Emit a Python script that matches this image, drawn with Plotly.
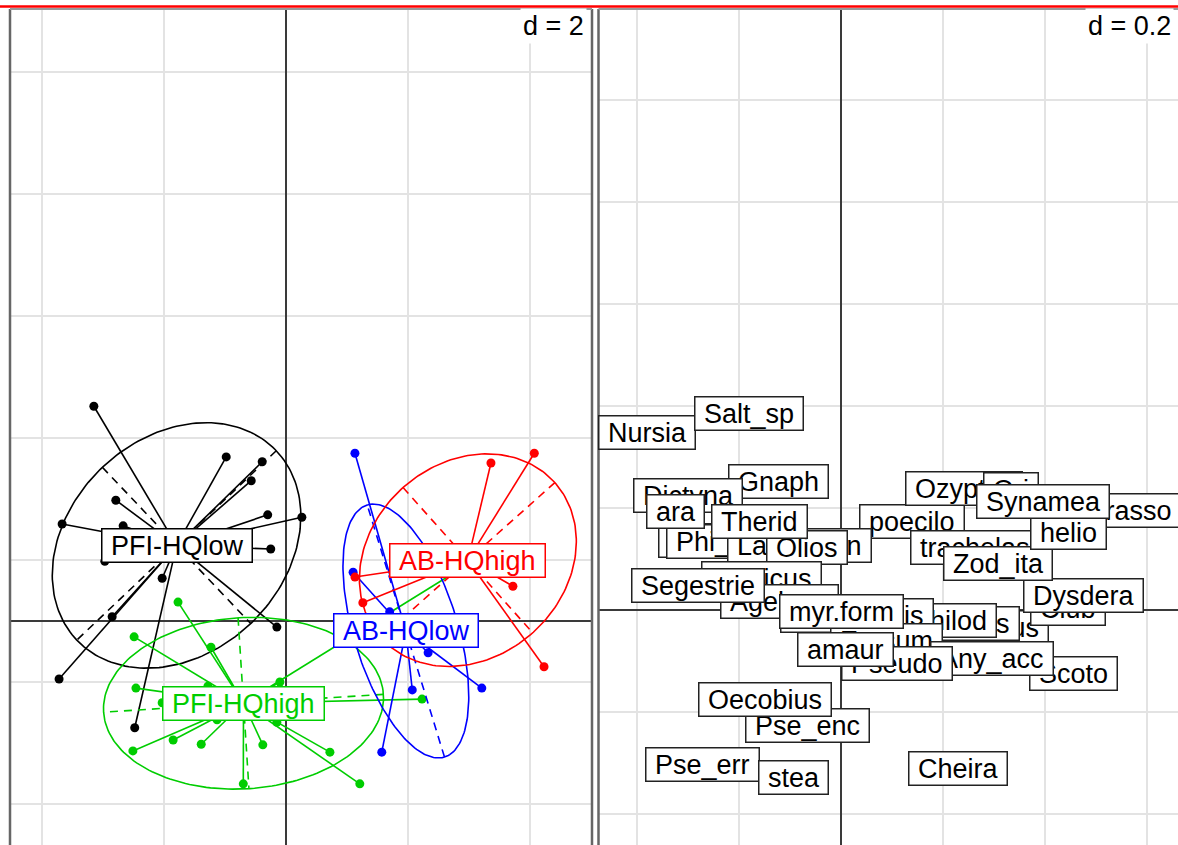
import numpy as np
import plotly.graph_objects as go

# ---------------- Left panel: s.class (d = 2) ----------------
grp_names = ["PFI-HQlow", "PFI-HQhigh", "AB-HQlow", "AB-HQhigh"]
grp_colors = ["#000000", "#00CD00", "#0000FF", "#FF0000"]

pfi_low_x = [-3.15, -0.98, -0.39, -0.57, -2.79, -3.67, -2.67, -0.30, 0.26, -0.25, -2.97, -2.03, -2.85, -0.15, -3.72, -2.48]
pfi_low_y = [3.52, 2.69, 2.61, 2.30, 1.98, 1.59, 1.56, 1.74, 1.70, 1.18, 0.98, 0.70, 0.07, -0.10, -0.95, -1.75]

pfi_high_x = [-1.77, -2.49, -1.23, -0.10, -2.46, -2.03, 2.23, -2.51, -1.85, -1.39, -0.38, 0.72, -0.70, 1.21, -1.28, -1.13, -0.15, 2.77]
pfi_high_y = [0.31, -0.26, -0.43, -1.00, -1.10, -1.34, -1.28, -2.13, -1.95, -2.02, -2.03, -2.15, -2.67, -2.67, -1.07, -1.62, -1.66, 0.80]

ab_low_x = [1.13, 1.10, 1.70, 2.33, 3.21, 2.07, 1.57, 2.61]
ab_low_y = [2.75, 0.80, 0.15, -0.52, -1.10, -1.13, -2.15, -0.11]

ab_high_x = [3.36, 4.07, 1.13, 1.26, 3.72, 4.23, 3.10]
ab_high_y = [2.59, 2.75, 0.72, 0.30, 0.57, -0.75, 0.80]

groups_x = [pfi_low_x, pfi_high_x, ab_low_x, ab_high_x]
groups_y = [pfi_low_y, pfi_high_y, ab_low_y, ab_high_y]

# ---------------- Right panel: s.label (d = 0.2) ----------------
sp_names = ["Pholcus", "Phi_col", "poecilo", "Lasaeolan", "Olios", "Gnaph", "Dictyna", "ara", "Therid",
            "Xysticus", "Agelena", "Segestrie", "Tibellus", "Club", "Dysdera", "Pellenes", "Philod",
            "Macaroeris", "Eresum", "myr.form", "Scoto", "Any_acc", "Pseudo", "amaur", "Ozyptila", "Ori",
            "Drasso", "trachelas", "Zod_ita", "helio", "Synamea", "Nursia", "Salt_sp", "Pse_enc",
            "Oecobius", "Pse_err", "stea", "Cheira"]
sp_x = [-0.245, -0.237, 0.139, -0.082, -0.067, -0.122, -0.300, -0.325, -0.159,
        -0.155, -0.120, -0.280, 0.298, 0.445, 0.475, 0.229, 0.212,
        0.031, 0.090, 0.000, 0.455, 0.296, 0.110, 0.008, 0.241, 0.333,
        0.565, 0.263, 0.308, 0.447, 0.396, -0.380, -0.180, -0.065,
        -0.149, -0.271, -0.094, 0.229]
sp_y = [0.137, 0.135, 0.173, 0.127, 0.122, 0.251, 0.225, 0.194, 0.173,
        0.061, 0.016, 0.049, -0.035, 0.002, 0.029, -0.027, -0.020,
        -0.010, -0.059, -0.002, -0.124, -0.096, -0.104, -0.078, 0.239, 0.237,
        0.196, 0.122, 0.092, 0.151, 0.212, 0.349, 0.386, -0.227,
        -0.176, -0.302, -0.329, -0.310]

W, H = 1178, 845
FONT = "Liberation Sans, Arial, Helvetica, sans-serif"
LBL = 27

fig = go.Figure()


def ellipse(x, y, c=1.5, n=200):
    x = np.asarray(x, float)
    y = np.asarray(y, float)
    mx, my = x.mean(), y.mean()
    cov = np.cov(np.vstack([x, y]), bias=True)
    vals, vecs = np.linalg.eigh(cov)
    a = c * np.sqrt(vals[1]); b = c * np.sqrt(vals[0])
    v1 = vecs[:, 1]; v2 = vecs[:, 0]
    t = np.linspace(0, 2 * np.pi, n)
    ex = mx + a * np.cos(t) * v1[0] + b * np.sin(t) * v2[0]
    ey = my + a * np.cos(t) * v1[1] + b * np.sin(t) * v2[1]
    axx = [mx - a * v1[0], mx + a * v1[0], None, mx - b * v2[0], mx + b * v2[0]]
    axy = [my - a * v1[1], my + a * v1[1], None, my - b * v2[1], my + b * v2[1]]
    return mx, my, ex, ey, axx, axy


centroids = []
for gx, gy, col in zip(groups_x, groups_y, grp_colors):
    mx, my, ex, ey, axx, axy = ellipse(gx, gy)
    centroids.append((mx, my))
    sx, sy = [], []
    for px, py in zip(gx, gy):
        sx += [mx, px, None]
        sy += [my, py, None]
    fig.add_trace(go.Scatter(x=sx, y=sy, mode="lines", line=dict(color=col, width=1.6),
                             xaxis="x", yaxis="y", showlegend=False, hoverinfo="skip"))
    fig.add_trace(go.Scatter(x=ex, y=ey, mode="lines", line=dict(color=col, width=1.6),
                             xaxis="x", yaxis="y", showlegend=False, hoverinfo="skip"))
    fig.add_trace(go.Scatter(x=axx, y=axy, mode="lines", line=dict(color=col, width=1.6, dash="8px,6px"),
                             xaxis="x", yaxis="y", showlegend=False, hoverinfo="skip"))
    fig.add_trace(go.Scatter(x=gx, y=gy, mode="markers", marker=dict(color=col, size=9),
                             xaxis="x", yaxis="y", showlegend=False, hoverinfo="skip"))

annotations = []
NB = "\u00a0"
for (mx, my), name, col in zip(centroids, grp_names, grp_colors):
    annotations.append(dict(x=mx, y=my, xref="x", yref="y", text=NB + name + NB, showarrow=False,
                            font=dict(family=FONT, size=LBL, color=col), bgcolor="white",
                            bordercolor=col, borderwidth=1.5, borderpad=1))

for name, x, y in zip(sp_names, sp_x, sp_y):
    annotations.append(dict(x=x, y=y, xref="x2", yref="y2", text=NB + name + NB, showarrow=False,
                            font=dict(family=FONT, size=LBL, color="black"), bgcolor="white",
                            bordercolor="#222222", borderwidth=1.5, borderpad=1))

annotations.append(dict(x=587 / W, y=1 - 26 / H, xref="paper", yref="paper", xanchor="right", yanchor="middle",
                        text="d = 2", showarrow=False, font=dict(family=FONT, size=27, color="black"),
                        bgcolor="white", borderpad=2))
annotations.append(dict(x=1174 / W, y=1 - 26 / H, xref="paper", yref="paper", xanchor="right", yanchor="middle",
                        text="d = 0.2", showarrow=False, font=dict(family=FONT, size=27, color="black"),
                        bgcolor="white", borderpad=2))

top = 1 - 9 / H
shapes = [
    # red line at the very top
    dict(type="line", xref="paper", yref="paper", x0=0, x1=1, y0=1 - 6.5 / H, y1=1 - 6.5 / H,
         line=dict(color="#FF0000", width=2.5)),
    # left panel frame
    dict(type="line", xref="paper", yref="paper", x0=10 / W, x1=10 / W, y0=0, y1=top, line=dict(color="#666666", width=2.5)),
    dict(type="line", xref="paper", yref="paper", x0=592 / W, x1=592 / W, y0=0, y1=top, line=dict(color="#666666", width=2.5)),
    dict(type="line", xref="paper", yref="paper", x0=10 / W, x1=592 / W, y0=top, y1=top, line=dict(color="#999999", width=2)),
    # right panel frame
    dict(type="line", xref="paper", yref="paper", x0=598.5 / W, x1=598.5 / W, y0=0, y1=top, line=dict(color="#666666", width=2.5)),
    dict(type="line", xref="paper", yref="paper", x0=598.5 / W, x1=1, y0=top, y1=top, line=dict(color="#999999", width=2)),
]

grid_c = "#e3e3e3"
zero_c = "#3a3a3a"
fig.update_layout(
    width=W, height=H, margin=dict(l=0, r=0, t=0, b=0),
    paper_bgcolor="white", plot_bgcolor="white", showlegend=False,
    xaxis=dict(domain=[10 / W, 592 / W], range=[(10 - 286) / 61, (592 - 286) / 61], dtick=2, tick0=0,
               showgrid=True, gridcolor=grid_c, gridwidth=2, zeroline=True, zerolinecolor=zero_c,
               zerolinewidth=1.6, showticklabels=False, ticks=""),
    yaxis=dict(domain=[0, top], range=[(621 - 845) / 61, (621 - 9) / 61], dtick=2, tick0=1,
               showgrid=True, gridcolor=grid_c, gridwidth=2, zeroline=True, zerolinecolor=zero_c,
               zerolinewidth=1.6, showticklabels=False, ticks=""),
    xaxis2=dict(domain=[598 / W, 1], range=[(598 - 841) / 510, (1178 - 841) / 510], dtick=0.2, tick0=0,
                showgrid=True, gridcolor=grid_c, gridwidth=2, zeroline=True, zerolinecolor=zero_c,
                zerolinewidth=1.6, showticklabels=False, ticks="", anchor="y2"),
    yaxis2=dict(domain=[0, top], range=[(610 - 845) / 510, (610 - 9) / 510], dtick=0.2, tick0=0,
                showgrid=True, gridcolor=grid_c, gridwidth=2, zeroline=True, zerolinecolor=zero_c,
                zerolinewidth=1.6, showticklabels=False, ticks="", anchor="x2"),
    annotations=annotations, shapes=shapes,
)
# invisible trace so the second subplot is created
fig.add_trace(go.Scatter(x=[0], y=[0], mode="markers", marker=dict(opacity=0), xaxis="x2", yaxis="y2",
                         showlegend=False, hoverinfo="skip"))

fig.write_html("out.html", config={"displayModeBar": False},
               post_script="document.body.style.margin='0';document.body.style.overflow='hidden';")
